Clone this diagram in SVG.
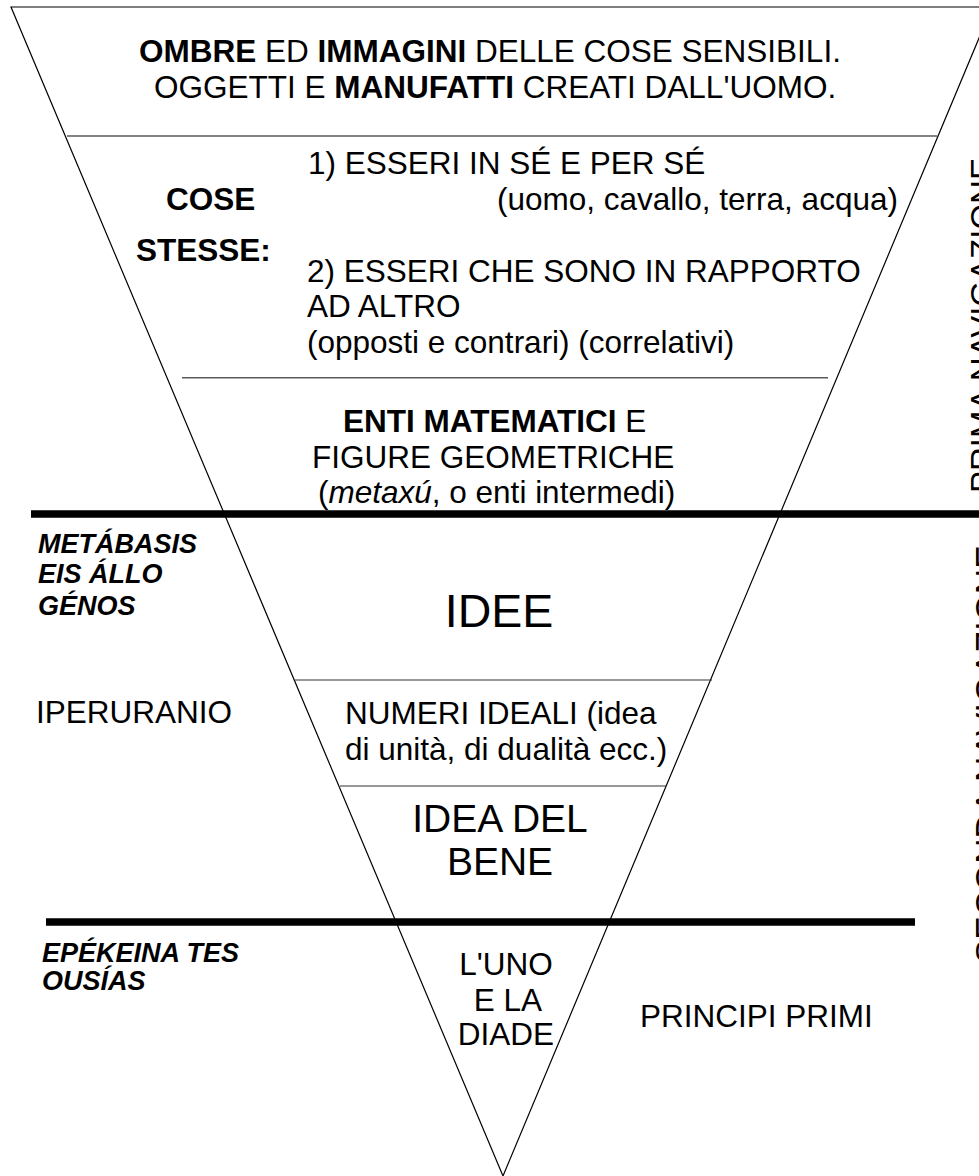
<svg xmlns="http://www.w3.org/2000/svg" width="979" height="1176" viewBox="0 0 979 1176">
<style>
text{font-family:"Liberation Sans",Arial,Helvetica,sans-serif;fill:#000;font-size:31.5px}
.b{font-weight:bold}
.i{font-style:italic}
.bi{font-weight:bold;font-style:italic;font-size:27px}
.thin{stroke:#5a5a5a;stroke-width:1.6;fill:none}
.thin2{stroke:#333;stroke-width:1.1;fill:none}
.thick{stroke:#000;stroke-width:7.5;fill:none}
</style>
<rect width="979" height="1176" fill="#fff"/>
<g id="connectors">
<polygon points="11,7 992,7 503,1176" fill="none" stroke="#000" stroke-width="1.2"/>
<line class="thin" x1="67" y1="136" x2="937" y2="136"/>
<line class="thin" x1="182" y1="377.7" x2="828" y2="377.7"/>
<line class="thin2" x1="295" y1="680" x2="712" y2="680"/>
<line class="thin2" x1="340" y1="786" x2="666" y2="786"/>
<line class="thick" x1="31" y1="514" x2="979" y2="514"/>
<line class="thick" x1="46" y1="922" x2="915" y2="922"/>
</g>
<g id="ombre">
<text x="139" y="62"><tspan class="b">OMBRE</tspan> ED <tspan class="b">IMMAGINI</tspan> DELLE COSE SENSIBILI.</text>
<text x="154" y="98"><tspan>OGGETTI E </tspan><tspan class="b">MANUFATTI</tspan> CREATI DALL'UOMO.</text>
</g>
<g id="cose-stesse">
<text class="b" x="166" y="210">COSE</text>
<text class="b" x="136" y="261">STESSE:</text>
</g>
<g id="esseri">
<text x="308" y="174">1) ESSERI IN SÉ E PER SÉ</text>
<text x="497" y="210">(uomo, cavallo, terra, acqua)</text>
<text x="307" y="282">2) ESSERI CHE SONO IN RAPPORTO</text>
<text x="307" y="317">AD ALTRO</text>
<text x="307" y="353">(opposti e contrari) (correlativi)</text>
</g>
<g id="enti">
<text x="343" y="432"><tspan class="b">ENTI MATEMATICI</tspan> E</text>
<text x="312" y="468">FIGURE GEOMETRICHE</text>
<text x="318" y="503">(<tspan class="i">metaxú</tspan>, o enti intermedi)</text>
</g>
<g id="metabasis">
<text class="bi" x="38" y="553">METÁBASIS</text>
<text class="bi" x="38" y="583">EIS ÁLLO</text>
<text class="bi" x="38" y="615">GÉNOS</text>
</g>
<g id="idee">
<text x="499" y="627" text-anchor="middle" style="font-size:46.5px">IDEE</text>
</g>
<g id="iperuranio">
<text x="36" y="723">IPERURANIO</text>
</g>
<g id="numeri">
<text x="345" y="724">NUMERI IDEALI (idea</text>
<text x="345" y="760">di unità, di dualità ecc.)</text>
</g>
<g id="bene">
<text x="500" y="832" text-anchor="middle" style="font-size:39px">IDEA DEL</text>
<text x="500" y="875" text-anchor="middle" style="font-size:39px">BENE</text>
</g>
<g id="epekeina">
<text class="bi" x="42" y="962">EPÉKEINA TES</text>
<text class="bi" x="42" y="990">OUSÍAS</text>
</g>
<g id="uno">
<text x="506" y="975" text-anchor="middle">L'UNO</text>
<text x="508" y="1011" text-anchor="middle">E LA</text>
<text x="506" y="1045" text-anchor="middle">DIADE</text>
</g>
<g id="principi">
<text x="640" y="1027">PRINCIPI PRIMI</text>
</g>
<g id="navigazione">
<text transform="translate(994,493) rotate(-90)" style="font-size:33px">PRIMA NAVIGAZIONE</text>
<text transform="translate(1000,963) rotate(-90)" style="font-size:35px">SECONDA NAVIGAZIONE</text>
</g>
</svg>
